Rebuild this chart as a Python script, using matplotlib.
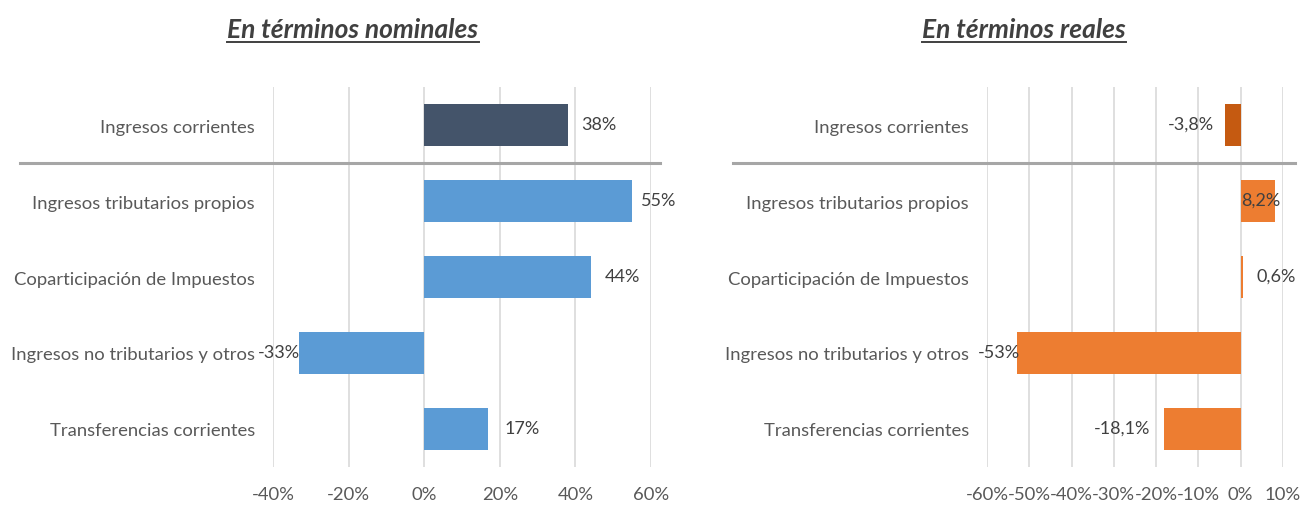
import numpy as np
import matplotlib.pyplot as plt
from matplotlib.lines import Line2D
from matplotlib.transforms import blended_transform_factory

plt.rcParams['font.family'] = ['Lato', 'DejaVu Sans']

categorias = ['Ingresos corrientes', 'Ingresos tributarios propios',
              'Coparticipación de Impuestos', 'Ingresos no tributarios y otros',
              'Transferencias corrientes']
nominal = [38, 55, 44, -33, 17]
nominal_txt = ['38%', '55%', '44%', '-33%', '17%']
real = [-3.8, 8.2, 0.6, -53, -18.1]
real_txt = ['-3,8%', '8,2%', '0,6%', '-53%', '-18,1%']

ticks_nom = [-40, -20, 0, 20, 40, 60]
ticks_real = [-60, -50, -40, -30, -20, -10, 0, 10]

# desplazamiento de las etiquetas respecto al extremo de la barra (pixeles)
desp_nom = [13, 9, 14, 1, 16]
desp_real = [-11, -34, 13, 3, -14]

W, H = 1307, 506
fig = plt.figure(figsize=(W / 100, H / 100), dpi=100)

gris_txt = '#595959'


def panel(rect, valores, textos, desp, ticks, colores, titulo, x_tit, sep_x):
    ax = fig.add_axes(rect)
    y = np.arange(len(categorias))
    ax.barh(y, valores, height=0.56, color=colores, zorder=3)
    ax.set_ylim(len(categorias) - 0.5, -0.5)
    ax.set_xlim(ticks[0], ticks[-1])
    ax.set_xticks(ticks)
    ax.set_xticklabels([f'{t}%' for t in ticks])
    ax.set_yticks(y)
    ax.set_yticklabels(categorias)
    ax.tick_params(length=0, labelsize=13.3, labelcolor=gris_txt)
    ax.tick_params(axis='x', pad=14)
    ax.tick_params(axis='y', pad=13)
    ax.grid(axis='x', color='#D9D9D9', lw=1.2, zorder=0)
    for s in ax.spines.values():
        s.set_visible(False)
    for yi, v, t, d in zip(y, valores, textos, desp):
        ax.annotate(t, (v, yi), xytext=(d, 1),
                    textcoords='offset pixels', va='center',
                    ha='left' if v >= 0 else 'right',
                    fontsize=13, color='#404040', zorder=4)
    # linea separadora
    tr = blended_transform_factory(fig.transFigure, ax.transData)
    fig.add_artist(Line2D([sep_x[0] / W, sep_x[1] / W], [0.5, 0.5],
                          transform=tr, color='#A6A6A6', lw=2.2))
    # titulo subrayado
    txt = fig.text(x_tit / W, 1 - 30 / H, titulo, ha='center', va='center',
                   fontsize=19, fontweight='bold', fontstyle='italic',
                   color='#404040')
    return ax, txt


colores_nom = ['#44546A'] + ['#5B9BD5'] * 4
colores_real = ['#C55A11'] + ['#ED7D31'] * 4

ax1, t1 = panel([273 / W, 1 - 468 / H, 378 / W, 380 / H], nominal, nominal_txt,
                desp_nom, ticks_nom, colores_nom, 'En términos nominales', 353, (20, 660))
ax2, t2 = panel([987 / W, 1 - 468 / H, 296 / W, 380 / H], real, real_txt,
                desp_real, ticks_real, colores_real, 'En términos reales', 1024, (733, 1295))

fig.canvas.draw()
r = fig.canvas.get_renderer()
for t in (t1, t2):
    bb = t.get_window_extent(r)
    yl = (bb.y0 - 1) / H
    fig.add_artist(Line2D([bb.x0 / W, bb.x1 / W], [yl, yl],
                          transform=fig.transFigure, color='#404040', lw=1.4))

fig.savefig('out.png', dpi=100)
